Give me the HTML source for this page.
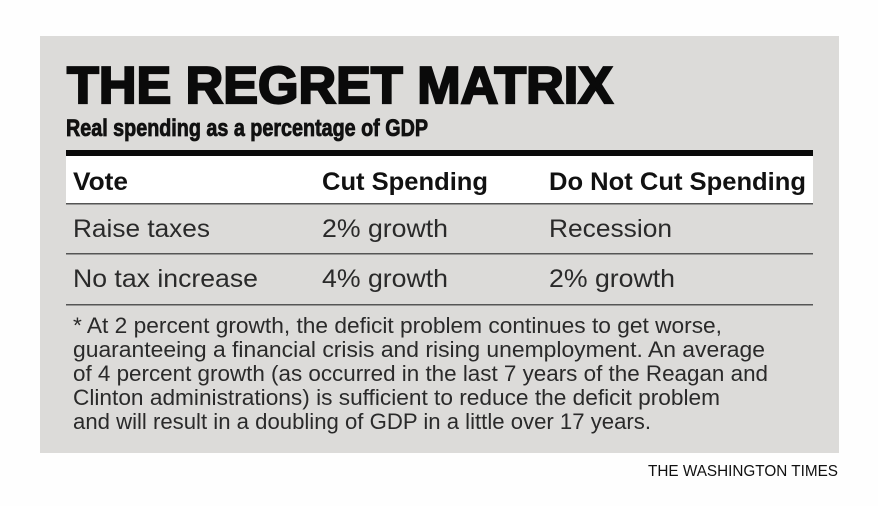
<!DOCTYPE html>
<html><head><meta charset="utf-8"><style>
html,body{margin:0;padding:0;background:#fefefe;}
svg{display:block;font-family:"Liberation Sans",sans-serif;}
</style></head><body>
<svg width="878" height="506" viewBox="0 0 878 506">
<rect x="0" y="0" width="878" height="506" fill="#fefefe"/>
<rect x="40" y="36" width="799" height="417" fill="#dcdbd9"/>
<text x="67" y="103" font-size="52" font-weight="bold" fill="#0a0a0a" stroke="#0a0a0a" stroke-width="2.2" textLength="546" lengthAdjust="spacingAndGlyphs">THE REGRET MATRIX</text>
<text x="66" y="136" font-size="24" font-weight="bold" fill="#111" stroke="#111" stroke-width="0.8" textLength="362" lengthAdjust="spacingAndGlyphs">Real spending as a percentage of GDP</text>
<rect x="66" y="150" width="747" height="6" fill="#0a0a0a"/>
<rect x="66" y="156" width="747" height="47" fill="#ffffff"/>
<g font-size="25" font-weight="bold" fill="#111">
<text x="73" y="190" textLength="55" lengthAdjust="spacingAndGlyphs">Vote</text>
<text x="322" y="190" textLength="166" lengthAdjust="spacingAndGlyphs">Cut Spending</text>
<text x="549" y="190" textLength="257" lengthAdjust="spacingAndGlyphs">Do Not Cut Spending</text>
</g>
<rect x="66" y="203" width="747" height="1.5" fill="#555"/>
<rect x="66" y="253" width="747" height="1.5" fill="#555"/>
<rect x="66" y="304" width="747" height="1.5" fill="#555"/>
<g font-size="25" fill="#2a2a2a">
<text x="73" y="237" textLength="137" lengthAdjust="spacingAndGlyphs">Raise taxes</text>
<text x="322" y="237" textLength="126" lengthAdjust="spacingAndGlyphs">2% growth</text>
<text x="549" y="237" textLength="123" lengthAdjust="spacingAndGlyphs">Recession</text>
<text x="73" y="287" textLength="185" lengthAdjust="spacingAndGlyphs">No tax increase</text>
<text x="322" y="287" textLength="126" lengthAdjust="spacingAndGlyphs">4% growth</text>
<text x="549" y="287" textLength="126" lengthAdjust="spacingAndGlyphs">2% growth</text>
</g>
<g font-size="22" fill="#2a2a2a">
<text x="73" y="333" textLength="649" lengthAdjust="spacingAndGlyphs">* At 2 percent growth, the deficit problem continues to get worse,</text>
<text x="73" y="357" textLength="692" lengthAdjust="spacingAndGlyphs">guaranteeing a financial crisis and rising unemployment.  An average</text>
<text x="73" y="381" textLength="695" lengthAdjust="spacingAndGlyphs">of 4 percent growth (as occurred in the last 7 years of the Reagan and</text>
<text x="73" y="405" textLength="647" lengthAdjust="spacingAndGlyphs">Clinton administrations) is sufficient to reduce the deficit problem</text>
<text x="73" y="429" textLength="578" lengthAdjust="spacingAndGlyphs">and will result in a doubling of GDP in a little over 17 years.</text>
</g>
<text x="648" y="476" font-size="16" fill="#111" textLength="190" lengthAdjust="spacingAndGlyphs">THE WASHINGTON TIMES</text>
</svg>
</body></html>
